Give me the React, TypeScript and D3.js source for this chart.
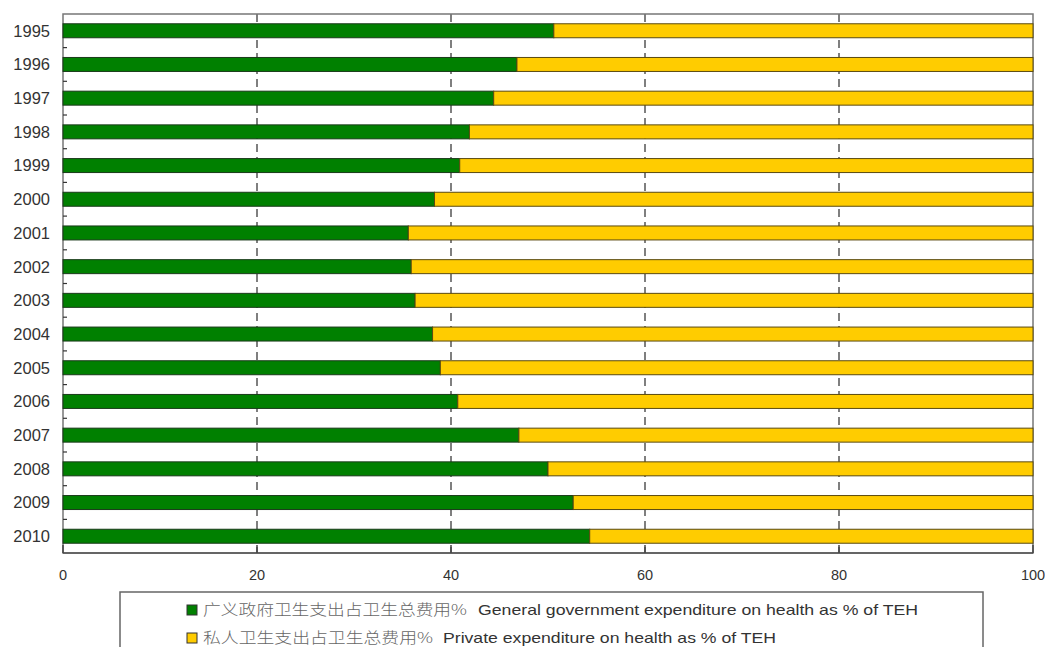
import React from "react";
import * as d3 from "d3";

const years = ["1995","1996","1997","1998","1999","2000","2001","2002","2003","2004","2005","2006","2007","2008","2009","2010"];
const govShare = [50.6,46.8,44.4,41.9,40.9,38.3,35.6,35.9,36.3,38.1,38.9,40.7,47.0,50.0,52.6,54.3];
const privateShare = [49.4,53.2,55.6,58.1,59.1,61.7,64.4,64.1,63.7,61.9,61.1,59.3,53.0,50.0,47.4,45.7];
const xTicks = [0,20,40,60,80,100];
const legendZh = ["广义政府卫生支出占卫生总费用%","私人卫生支出占卫生总费用%"];
const legendEn = ["General government expenditure on health as % of TEH","Private expenditure on health as % of TEH"];
const colors = ["#008000","#FFCC00"];

export default function App() {
  const W = 1045, H = 647;
  const left = 63, right = 1033, top = 14, bottom = 553;
  const x = d3.scaleLinear().domain([0, 100]).range([left, right]);
  const y = d3.scaleBand().domain(years).range([top, bottom]).paddingInner(0.585).paddingOuter(0.29);
  const step = y.step();
  const bh = y.bandwidth();
  const font = "'Liberation Sans', Arial, sans-serif";
  const legendLayout = [
    { y: 610, zhLen: 264, enX: 478, enLen: 440 },
    { y: 638, zhLen: 230, enX: 443, enLen: 333 },
  ];
  return (
    <svg width={W} height={H} style={{ position: "absolute", left: 0, top: 0, background: "#fff" }}>
      {xTicks.filter(t => t > 0 && t < 100).map(t => (
        <line key={"g"+t} x1={x(t)} x2={x(t)} y1={top} y2={bottom} stroke="#555" strokeWidth={1.5} strokeDasharray="8,5" />
      ))}
      <rect x={left} y={top} width={right-left} height={bottom-top} fill="none" stroke="#777" strokeWidth={1.5} />
      {years.slice(1).map((yr) => (
        <line key={"t"+yr} x1={left} x2={left+4} y1={(y(yr) as number) - (step - bh)/2} y2={(y(yr) as number) - (step - bh)/2} stroke="#333" strokeWidth={1.2} />
      ))}
      {years.map((yr, i) => {
        const yy = y(yr) as number;
        return (
          <g key={yr}>
            <rect x={x(0)} y={yy} width={x(govShare[i]) - x(0)} height={bh} fill={colors[0]} stroke="#1a3a1a" strokeWidth={1} />
            <rect x={x(govShare[i])} y={yy} width={x(govShare[i] + privateShare[i]) - x(govShare[i])} height={bh} fill={colors[1]} stroke="#5a4a10" strokeWidth={1} />
          </g>
        );
      })}
      <line x1={left} x2={right} y1={bottom} y2={bottom} stroke="#555" strokeWidth={1.5} />
      {xTicks.map(t => (
        <line key={"bt"+t} x1={x(t)} x2={x(t)} y1={bottom-8} y2={bottom} stroke="#444" strokeWidth={1.5} />
      ))}
      {years.map(yr => (
        <text key={"l"+yr} x={50} y={(y(yr) as number) + bh/2} dy="0.36em" textAnchor="end" fontFamily={font} fontSize={16.5} fill="#333">{yr}</text>
      ))}
      {xTicks.map(t => (
        <text key={"xl"+t} x={x(t)} y={580} textAnchor="middle" fontFamily={font} fontSize={14.5} fill="#333">{t}</text>
      ))}
      <rect x={120} y={592} width={863} height={70} fill="#fff" stroke="#666" strokeWidth={1.5} />
      {legendZh.map((zh, i) => {
        const L = legendLayout[i];
        return (
          <g key={"lg"+i}>
            <rect x={187} y={L.y - 5} width={10} height={10} fill={colors[i]} stroke="#333" strokeWidth={1} />
            <text x={203} y={L.y} dy="0.36em" fontSize={15} fontFamily="'Noto Sans CJK SC', sans-serif" fill="#666" fontWeight={300} textLength={L.zhLen} lengthAdjust="spacingAndGlyphs">{zh}</text>
            <text x={L.enX} y={L.y} dy="0.36em" fontSize={15} fontFamily={font} fill="#333" textLength={L.enLen} lengthAdjust="spacingAndGlyphs">{legendEn[i]}</text>
          </g>
        );
      })}
    </svg>
  );
}
